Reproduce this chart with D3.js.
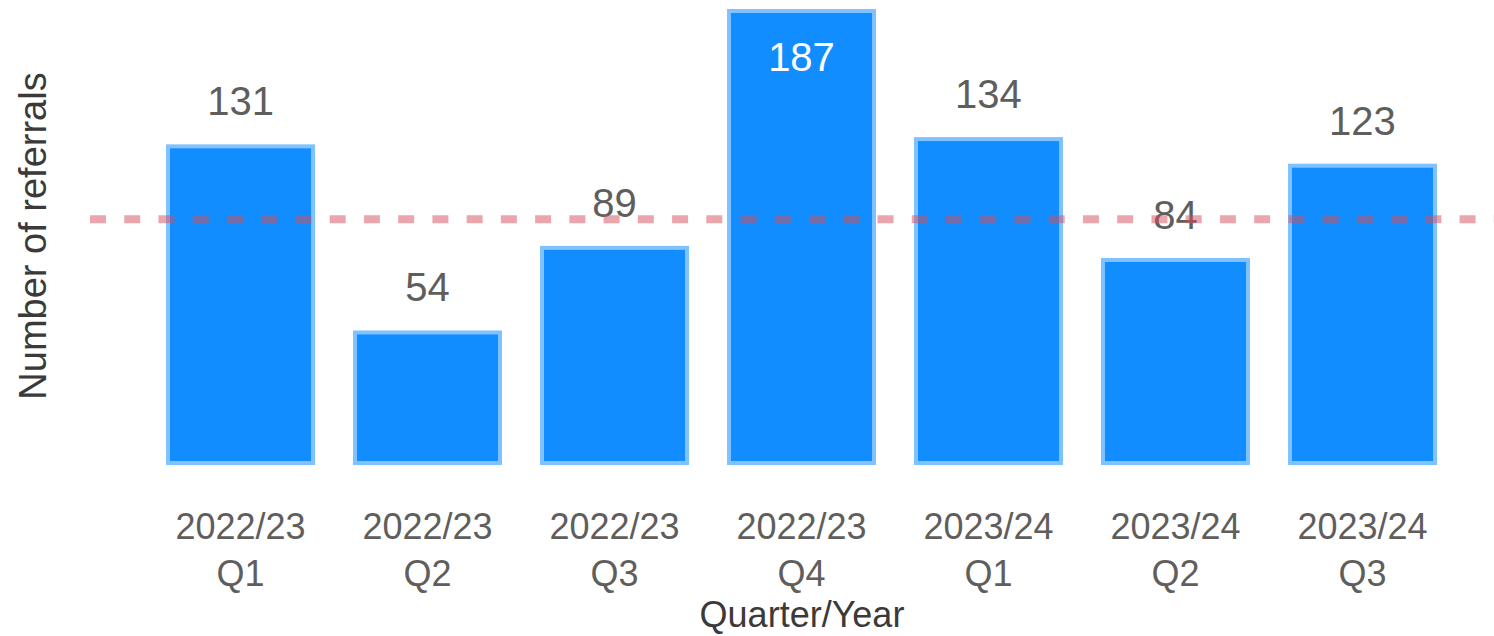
<!DOCTYPE html>
<html>
<head>
<meta charset="utf-8">
<script src="https://cdn.jsdelivr.net/npm/d3@7"></script>
<style>
  body { margin: 0; background: #fff; }
  svg { display: block; font-family: "Liberation Sans", Arial, sans-serif; }
  .tick text { fill: #605e5c; font-size: 36px; }
  .label { font-size: 40px; }
  .title { fill: #3b3a39; font-size: 36px; }
  .ytitle { font-size: 38px; }
</style>
</head>
<body>
<div id="chart"></div>
<script>
//-- Data
var quarters = ["2022/23 Q1", "2022/23 Q2", "2022/23 Q3", "2022/23 Q4", "2023/24 Q1", "2023/24 Q2", "2023/24 Q3"];
var referrals = [131, 54, 89, 187, 134, 84, 123];
var target_value = 100;

var tot_width = 1494;
var tot_height = 636;

var svg = d3.select("#chart")
  .append("svg")
    .attr("width", tot_width)
    .attr("height", tot_height);

var data = quarters.map(function (q, i) {return {quarter: q, value: referrals[i]};});

//-- Scales
var x = d3.scaleBand()
  .domain(quarters)
  .range([166, 1437])
  .paddingInner(0.203)
  .paddingOuter(0);

var y = d3.scaleLinear()
  .domain([0, d3.max(referrals)])
  .range([461, 9]);

//-- Bars
svg.selectAll(".bar")
  .data(data)
  .enter()
  .append("rect")
    .attr("class", "bar")
    .attr("x", function (d) {return x(d.quarter) + 2;})
    .attr("y", function (d) {return y(d.value) + 2;})
    .attr("width", x.bandwidth() - 4)
    .attr("height", function (d) {return y(0) - y(d.value);})
    .style("fill", "#118dff")
    .style("stroke", "#80c2ff")
    .style("stroke-width", 4);

//-- Data labels (inside the bar when there is no room above)
function inside(d) {return y(d.value) - 29 < 45;}

svg.selectAll(".label")
  .data(data)
  .enter()
  .append("text")
    .attr("class", "label")
    .attr("x", function (d) {return x(d.quarter) + 0.5*x.bandwidth();})
    .attr("y", function (d) {return inside(d) ? y(d.value) + 62 : y(d.value) - 29;})
    .style("fill", function (d) {return inside(d) ? "#ffffff" : "#605e5c";})
    .attr("text-anchor", "middle")
    .text(function (d) {return d.value;});

//-- x-axis
var x_axis = d3.axisBottom(x)
  .tickSize(0)
  .tickFormat("");

var gx = svg.append("g")
  .attr("class", "xaxis")
  .attr("transform", "translate(0," + 500 + ")")
  .call(x_axis);
gx.select(".domain").remove();

gx.selectAll(".tick text")
  .each(function (d) {
    var parts = d.split(" ");
    var t = d3.select(this).attr("y", 0).attr("dy", null);
    t.append("tspan").attr("x", 0).attr("y", 39).text(parts[0]);
    t.append("tspan").attr("x", 0).attr("y", 86).text(parts[1]);
  });

//-- Target line
svg.append("line")
  .attr("x1", 90)
  .attr("x2", tot_width)
  .attr("y1", y(target_value))
  .attr("y2", y(target_value))
  .style("stroke", "#d64e5a")
  .style("stroke-opacity", 0.5)
  .style("stroke-width", 8)
  .style("stroke-dasharray", "16 18.24");

//-- Axis titles
svg.append("text")
  .attr("class", "title")
  .attr("x", 802)
  .attr("y", 627)
  .attr("text-anchor", "middle")
  .text("Quarter/Year");

svg.append("text")
  .attr("class", "title ytitle")
  .attr("transform", "translate(46,236) rotate(-90)")
  .attr("text-anchor", "middle")
  .text("Number of referrals");
</script>
</body>
</html>
